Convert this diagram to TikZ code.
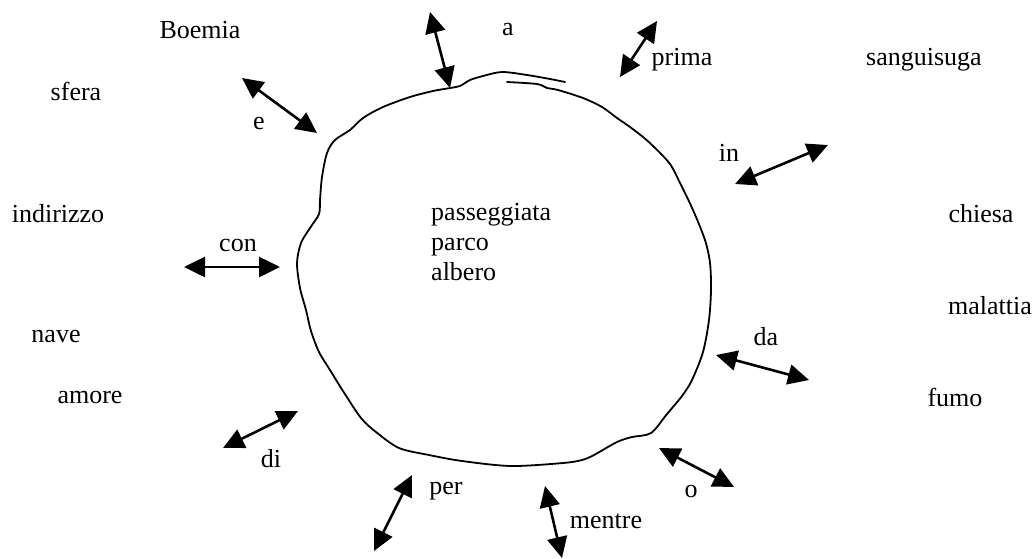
\documentclass[tikz,border=0pt]{standalone}
\usepackage{fontspec}
\setmainfont{Liberation Serif}
\usetikzlibrary{arrows.meta}

\tikzset{
  word/.style={inner sep=0pt,font=\fontsize{26}{30}\selectfont},
  link/.style={line width=2.6pt,{Triangle[length=21pt,width=20pt]}-{Triangle[length=21pt,width=20pt]}},
  rim/.style={line width=1.8pt,line join=round,line cap=round}
}

\begin{document}
\begin{tikzpicture}[x=1pt,y=-1pt]
\useasboundingbox (0,0) rectangle (1035,558);
% the hand drawn ring
\draw[rim] plot[smooth,tension=0.5] coordinates {
  (565,82) (550,79) (527,75) (502,72) (483,76) (470,80) (460,86) (450,88)
  (433,91) (410,97) (383,107) (363,118) (350,130) (335,140) (327,153)
  (322,177) (320,200) (319,214) (310,228) (301,243) (297,263) (300,288)
  (306,310) (311,331) (319,352) (330,370) (343,391) (361,418) (376,432)
  (399,448) (429,455) (462,461) (511,466) (563,463) (582,460) (594,455)
  (617,442) (632,437) (651,433) (667,414) (682,396) (692,380) (703,352)
  (709,320) (711,290) (710,263) (705,240) (693,210) (681,185) (670,164)
  (653,146) (643,137) (630,127) (617,118) (602,107) (583,98) (558,90)
  (547,88) (537,84) (507,82)};
% words inside
\node[word,anchor=base west] (passeggiata) at (431,220) {passeggiata};
\node[word,anchor=base west] (parco) at (431,250) {parco};
\node[word,anchor=base west] (albero) at (431,280) {albero};
% words outside
\node[word] (boemia) at (200,30) {Boemia};
\node[word] (sfera) at (76,91) {sfera};
\node[word] (indirizzo) at (58,214) {indirizzo};
\node[word] (nave) at (56,336) {nave};
\node[word] (amore) at (90,397) {amore};
\node[word] (sanguisuga) at (924,60) {sanguisuga};
\node[word] (chiesa) at (981,214) {chiesa};
\node[word] (malattia) at (990,306) {malattia};
\node[word] (fumo) at (955,397) {fumo};
% the little words
\node[word] (a) at (508,30) {a};
\node[word] (prima) at (682,60) {prima};
\node[word] (e) at (259,123) {e};
\node[word] (in) at (729,153) {in};
\node[word] (con) at (238,245) {con};
\node[word] (da) at (766,337) {da};
\node[word] (di) at (271,459) {di};
\node[word] (per) at (446,491) {per};
\node[word] (o) at (691,491) {o};
\node[word] (mentre) at (606,521) {mentre};
% arrow ends
\coordinate (a1) at (430,12);   \coordinate (a2) at (450,88);
\coordinate (prima1) at (657,21); \coordinate (prima2) at (620,77);
\coordinate (e1) at (242,78);   \coordinate (e2) at (317,133);
\coordinate (in1) at (828,145); \coordinate (in2) at (735,184);
\coordinate (con1) at (184,267); \coordinate (con2) at (280,267);
\coordinate (da1) at (716,355); \coordinate (da2) at (809,380);
\coordinate (di1) at (223,448); \coordinate (di2) at (298,411);
\coordinate (per1) at (374,551); \coordinate (per2) at (412,475);
\coordinate (mentre1) at (545,486); \coordinate (mentre2) at (562,558);
\coordinate (o1) at (659,448);  \coordinate (o2) at (734,487);
\draw[link] (a1) -- (a2);
\draw[link] (prima1) -- (prima2);
\draw[link] (e1) -- (e2);
\draw[link] (in1) -- (in2);
\draw[link] (con1) -- (con2);
\draw[link] (da1) -- (da2);
\draw[link] (di1) -- (di2);
\draw[link] (per1) -- (per2);
\draw[link] (mentre1) -- (mentre2);
\draw[link] (o1) -- (o2);
\end{tikzpicture}
\end{document}
